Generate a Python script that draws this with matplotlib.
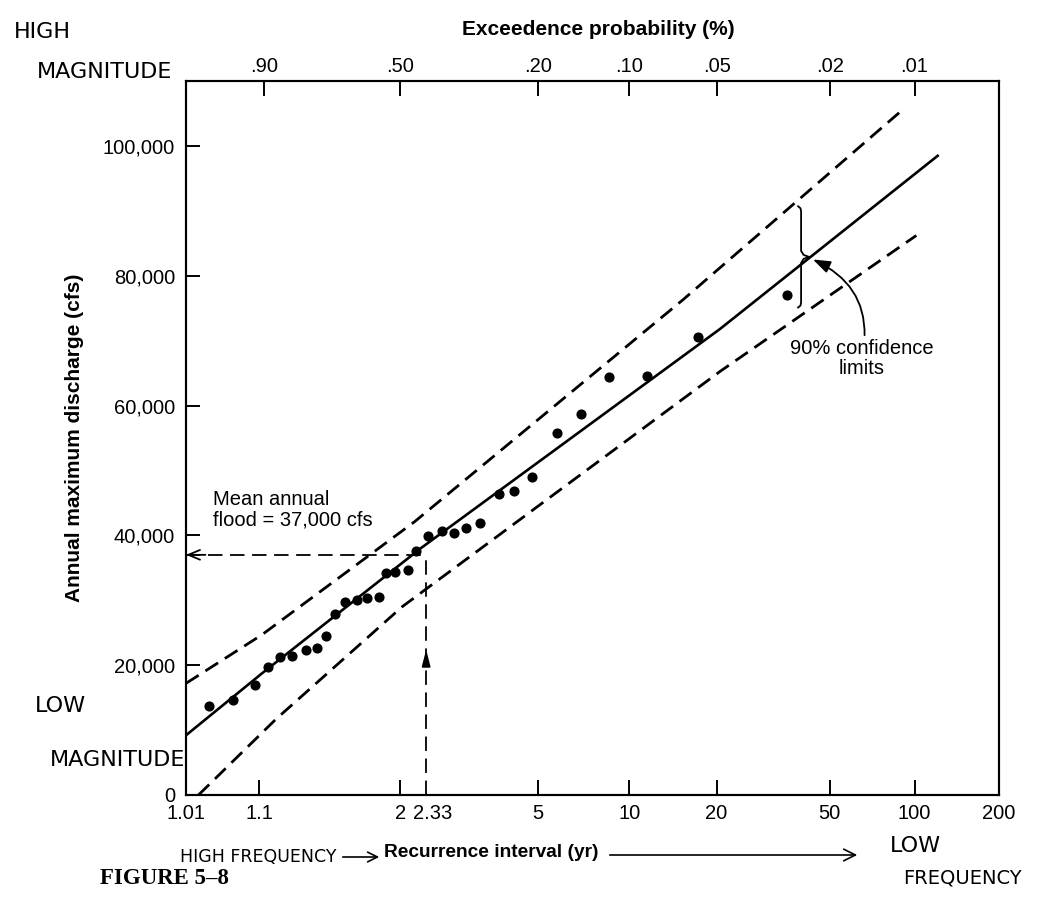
import numpy as np
import matplotlib
matplotlib.use("Agg")
import matplotlib.pyplot as plt
from matplotlib.lines import Line2D
from matplotlib.transforms import IdentityTransform

plt.rcParams['font.family'] = ['Liberation Sans', 'DejaVu Sans']

# ---------------- data ----------------
recurrence_interval_yr = [1.024, 1.051, 1.091, 1.121, 1.157, 1.200, 1.255, 1.311,
                          1.360, 1.414, 1.480, 1.568, 1.651, 1.767, 1.832, 1.936,
                          2.086, 2.195, 2.358, 2.579, 2.785, 3.018, 3.319, 3.788,
                          4.212, 4.776, 5.74, 6.88, 8.58, 11.5, 17.3, 35.3]
annual_max_discharge_cfs = [13700, 14700, 17000, 19700, 21300, 21400, 22400, 22700,
                            24500, 27900, 29800, 30100, 30300, 30500, 34200, 34300,
                            34700, 37600, 39900, 40700, 40300, 41100, 41900, 46400,
                            46800, 49000, 55800, 58700, 64400, 64500, 70600, 77000]

fit_T = [1.01, 1.108, 2.265, 20.56, 121.9]
fit_Q = [9200, 18800, 38100, 71800, 98600]
upper_T = [1.01, 1.107, 2.172, 15.29, 90.3]
upper_Q = [17200, 24700, 42100, 76300, 105500]
lower_T = [1.0164, 1.145, 2.02, 20.63, 101.5]
lower_Q = [0, 11700, 29000, 65300, 86200]

mean_flood_T = 2.33
mean_flood_Q = 37000
arrow_up_Q = 22400

x_ticks = [1.01, 1.1, 2, 5, 10, 20, 50, 100, 200]
x_tick_labels = ["1.01", "1.1", "2", "5", "10", "20", "50", "100", "200"]
exceed_prob = [0.90, 0.50, 0.20, 0.10, 0.05, 0.02, 0.01]
exceed_labels = [".90", ".50", ".20", ".10", ".05", ".02", ".01"]
y_ticks = [0, 20000, 40000, 60000, 80000, 100000]
y_tick_labels = ["0", "20,000", "40,000", "60,000", "80,000", "100,000"]

brace_T = 39.6
brace_Q_low, brace_Q_high = 75100, 90700
conf_tip_T, conf_tip_Q = 43.6, 82500


# ---------------- Gumbel (extreme-value) probability paper ----------------
def gumbel(T):
    T = np.clip(np.asarray(T, dtype=float), 1.000001, None)
    return -np.log(-np.log1p(-1.0 / T))


G_KNOTS = np.array([-12.0, float(gumbel(1.01)), float(gumbel(1.1)), float(gumbel(2.0)), 40.0])
P_KNOTS = np.array([-12.775, -1.399, -0.797, float(gumbel(2.0)), 40.0])


def fwd(T):
    return np.interp(gumbel(T), G_KNOTS, P_KNOTS)


def inv(P):
    g = np.interp(np.asarray(P, dtype=float), P_KNOTS, G_KNOTS)
    return -1.0 / np.expm1(-np.exp(-g))


W, H = 1038, 899
fig = plt.figure(figsize=(W / 100, H / 100), dpi=100)
ax = fig.add_axes([186 / W, 1 - 795 / H, 813 / W, 714 / H])
ax.set_xscale('function', functions=(fwd, inv))
ax.set_xlim(1.01, 200)
ax.set_ylim(0, 110000)

for s in ax.spines.values():
    s.set_linewidth(1.5)

# data points
ax.plot(recurrence_interval_yr, annual_max_discharge_cfs, 'o', color='black',
        markersize=6.3, zorder=5, clip_on=False)
# fitted line and 90% confidence limits
ax.plot(fit_T, fit_Q, '-', color='black', lw=1.9, solid_capstyle='butt')
ax.plot(upper_T, upper_Q, color='black', lw=2.0, linestyle=(0, (5.4, 2.9)))
ax.plot(lower_T, lower_Q, color='black', lw=2.0, linestyle=(0, (5.4, 2.9)))

# mean annual flood construction
x_left = ax.get_xlim()[0]
ax.plot([x_left, mean_flood_T], [mean_flood_Q, mean_flood_Q], color='black',
        lw=1.3, linestyle=(0, (8, 4.2)))
ax.plot([mean_flood_T, mean_flood_T], [0, mean_flood_Q], color='black',
        lw=1.3, linestyle=(0, (8, 4.2)))
ax.annotate('', xy=(x_left, mean_flood_Q), xytext=(14, 0), textcoords='offset points',
            arrowprops=dict(arrowstyle='->,head_length=0.6,head_width=0.25', lw=1.3,
                            color='black', shrinkA=0, shrinkB=0, mutation_scale=14))
ax.annotate('', xy=(mean_flood_T, arrow_up_Q), xytext=(0, -12), textcoords='offset points',
            arrowprops=dict(arrowstyle='-|>,head_length=0.7,head_width=0.18', lw=1.3,
                            color='black', shrinkA=0, shrinkB=0, mutation_scale=14))
ax.text(0.033, 0.40, 'Mean annual\nflood = 37,000 cfs', transform=ax.transAxes,
        ha='left', va='center', fontsize=14.5, linespacing=1.1)

# ticks
ax.set_xticks(x_ticks)
ax.set_xticklabels(x_tick_labels)
ax.xaxis.set_minor_locator(matplotlib.ticker.NullLocator())
ax.set_yticks(y_ticks)
ax.set_yticklabels(y_tick_labels)
ax.tick_params(axis='x', direction='in', length=11, width=1.4, pad=6.5,
               labelsize=14.5, top=False, bottom=True)
ax.tick_params(axis='y', direction='in', length=10, width=1.4, pad=8,
               labelsize=14.5, right=False, left=True)
ax.annotate('2.33', xy=(mean_flood_T, 0), xycoords=('data', 'axes fraction'),
            xytext=(5, -6.5), textcoords='offset points', ha='center', va='top',
            fontsize=14.5)

# top axis: exceedence probability
ax2 = ax.twiny()
ax2.set_xscale('function', functions=(fwd, inv))
ax2.set_xlim(ax.get_xlim())
ax2.set_xticks([1.0 / p for p in exceed_prob])
ax2.set_xticklabels(exceed_labels)
ax2.xaxis.set_minor_locator(matplotlib.ticker.NullLocator())
ax2.tick_params(axis='x', direction='in', length=11, width=1.4, pad=3.5, labelsize=14.5)
for s in ax2.spines.values():
    s.set_linewidth(1.5)

ax2.set_xlabel('Exceedence probability (%)', fontsize=15, fontweight='bold')
ax2.xaxis.set_label_coords(0.507, 1.064)
ax.set_xlabel('Recurrence interval (yr)', fontsize=13.8, fontweight='bold')
ax.xaxis.set_label_coords(0.375, -0.068)
ax.set_ylabel('Annual maximum discharge (cfs)', fontsize=15, fontweight='bold')
ax.yaxis.set_label_coords(-0.125, 0.5)

# brace for the confidence limits
x0, ytop = ax.transData.transform((brace_T, brace_Q_high))
_, ybot = ax.transData.transform((brace_T, brace_Q_low))
ym = 0.5 * (ytop + ybot)
bx = [x0 - 3, x0 - 0.6, x0, x0, x0 + 2.5, x0 + 8, x0 + 2.5, x0, x0, x0 - 0.6, x0 - 3]
by = [ytop, ytop - 2, ytop - 5, ym + 6, ym + 2, ym, ym - 2, ym - 6, ybot + 5, ybot + 2, ybot]
fig.add_artist(Line2D(bx, by, transform=IdentityTransform(), color='black', lw=1.3))

ax.annotate('90% confidence\nlimits', xy=(conf_tip_T, conf_tip_Q),
            xytext=(0.831, 0.611), textcoords='axes fraction', ha='center',
            va='center', fontsize=14.5, linespacing=1.05,
            arrowprops=dict(arrowstyle='-|>,head_length=0.7,head_width=0.25',
                            connectionstyle='arc3,rad=0.4', lw=1.3, color='black',
                            shrinkA=1, shrinkB=0, mutation_scale=15))

# caption
fig.text(100 / W, 1 - 878 / H, 'FIGURE 5\u20138', fontsize=16.5, fontweight='bold',
         family='Liberation Serif', ha='left', va='center')

# handwritten notes on the scan
hw = dict(family='DejaVu Sans', fontsize=16, color='black', ha='center', va='center')
fig.text(42 / W, 1 - 32 / H, 'HIGH', **hw)
fig.text(105 / W, 1 - 72 / H, 'MAGNITUDE', **hw)
fig.text(60 / W, 1 - 706 / H, 'LOW', **hw)
fig.text(118 / W, 1 - 760 / H, 'MAGNITUDE', **hw)
fig.text(258 / W, 1 - 857 / H, 'HIGH FREQUENCY', family='DejaVu Sans', fontsize=12.5,
         color='black', ha='center', va='center')
fig.text(915 / W, 1 - 846 / H, 'LOW', **hw)
fig.text(962 / W, 1 - 878 / H, 'FREQUENCY', family='DejaVu Sans', fontsize=14,
         color='black', ha='center', va='center')
fig.add_artist(matplotlib.patches.FancyArrowPatch(
    (340 / W, 1 - 857 / H), (382 / W, 1 - 857 / H), transform=fig.transFigure,
    arrowstyle='->,head_length=0.5,head_width=0.25', mutation_scale=14, lw=1.2, color='black'))
fig.add_artist(matplotlib.patches.FancyArrowPatch(
    (607 / W, 1 - 855 / H), (860 / W, 1 - 855 / H), transform=fig.transFigure,
    arrowstyle='->,head_length=0.6,head_width=0.3', mutation_scale=14, lw=1.2, color='black'))

fig.savefig('out.png', dpi=100)
